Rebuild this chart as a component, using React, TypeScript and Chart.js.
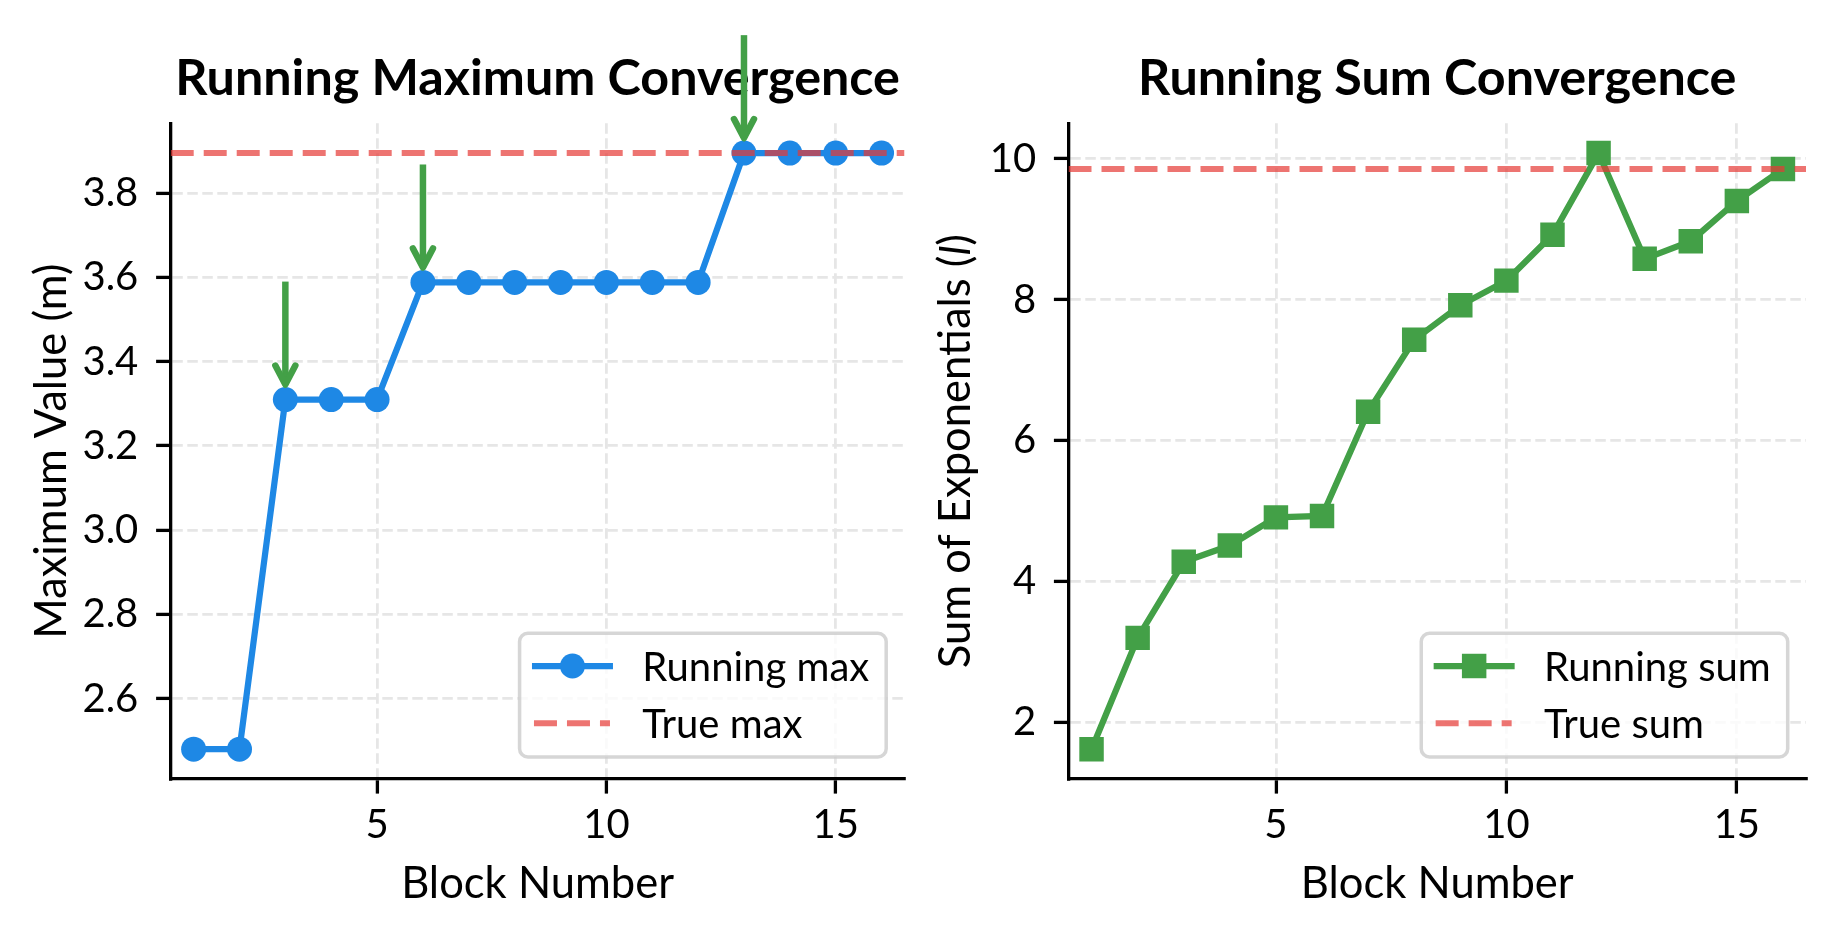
import React, { useEffect, useRef } from "react";
import { Chart, registerables } from "chart.js";

Chart.register(...registerables);

// ---------------- data ----------------
const blocks = [1, 2, 3, 4, 5, 6, 7, 8, 9, 10, 11, 12, 13, 14, 15, 16];
const runningMax = [2.48, 2.48, 3.31, 3.31, 3.31, 3.588, 3.588, 3.588, 3.588, 3.588, 3.588, 3.588, 3.895, 3.895, 3.895, 3.895];
const trueMax = 3.895;
const newMaxBlocks = [3, 6, 13];
const runningSum = [1.62, 3.2, 4.28, 4.51, 4.91, 4.93, 6.41, 7.43, 7.92, 8.27, 8.92, 10.08, 8.58, 8.83, 9.4, 9.855];
const trueSum = 9.855;
const xTickValues = [5, 10, 15];
const maxTickValues = [2.6, 2.8, 3.0, 3.2, 3.4, 3.6, 3.8];
const sumTickValues = [2, 4, 6, 8, 10];
const xLimits = [0.5, 16.5];
const arrowRise = 0.28;

// ---------------- style / layout ----------------
const W = 1834;
const H = 935;
const PANEL_W = 917;
const AREA_TOP = 123.3;
const AREA_BOTTOM = 779;
const TITLE_MID = 76.7;
const XLABEL_MID = 882;
const FAMILY = "Lato, 'Noto Sans', sans-serif";
const BLUE = "#1E88E5";
const GREEN = "#43A047";
const RED = "rgba(229,57,53,0.7)";
const GRID = "#e6e6e6";
const TICK_LEN = 14.6;
const SPINE_W = 3.3;
const LINE_W = 6.25;

type Part = { text: string; italic?: boolean };
type PanelSpec = {
  canvasLeft: number;
  areaLeft: number;
  areaRight: number;
  yTitleX: number;
  title: string;
  yTitle: Part[];
  series: number[];
  seriesLabel: string;
  color: string;
  pointStyle: "circle" | "rect";
  pointRadius: number;
  truth: number;
  truthLabel: string;
  yTicks: number[];
  decimals: number;
  arrows: number[];
};

const panels: PanelSpec[] = [
  {
    canvasLeft: 0,
    areaLeft: 170.7,
    areaRight: 908.3,
    yTitleX: 50,
    title: "Running Maximum Convergence",
    yTitle: [{ text: "Maximum Value (m)" }],
    series: runningMax,
    seriesLabel: "Running max",
    color: BLUE,
    pointStyle: "circle",
    pointRadius: 12.5,
    truth: trueMax,
    truthLabel: "True max",
    yTicks: maxTickValues,
    decimals: 1,
    arrows: newMaxBlocks,
  },
  {
    canvasLeft: PANEL_W,
    areaLeft: 151.5,
    areaRight: 889,
    yTitleX: 36.5,
    title: "Running Sum Convergence",
    yTitle: [{ text: "Sum of Exponentials (" }, { text: "l", italic: true }, { text: ")" }],
    series: runningSum,
    seriesLabel: "Running sum",
    color: GREEN,
    pointStyle: "rect",
    pointRadius: 17.3,
    truth: trueSum,
    truthLabel: "True sum",
    yTicks: sumTickValues,
    decimals: 0,
    arrows: [],
  },
];

type Fonts = { title: number; label: number; legend: number; tick: number };

function fitSize(text: string, weight: string, target: number): number {
  const c = document.createElement("canvas").getContext("2d")!;
  c.font = `${weight} 100px ${FAMILY}`;
  return (100 * target) / c.measureText(text).width;
}

function makeDecor(spec: PanelSpec, fonts: Fonts) {
  return {
    id: "decor",
    afterDraw(chart: any) {
      const { ctx, chartArea: a, scales } = chart;
      const xs = scales.x;
      const ys = scales.y;
      ctx.save();
      ctx.fillStyle = "#000";

      // ---- legend ----
      ctx.font = `${fonts.legend}px ${FAMILY}`;
      const capG = ctx.measureText("H").actualBoundingBoxAscent;
      const textW = Math.max(ctx.measureText(spec.seriesLabel).width, ctx.measureText(spec.truthLabel).width);
      const boxW = 122.7 + textW + 17;
      const boxH = 123.7;
      const boxR = a.right - 18.3;
      const boxB = a.bottom - 22;
      const boxL = boxR - boxW;
      const boxT = boxB - boxH;
      ctx.beginPath();
      ctx.roundRect(boxL, boxT, boxW, boxH, 8.3);
      ctx.fillStyle = "rgba(255,255,255,0.8)";
      ctx.fill();
      ctx.lineWidth = 3.5;
      ctx.strokeStyle = "rgba(204,204,204,0.8)";
      ctx.stroke();
      const hs = boxL + 12.4;
      const he = boxL + 93.4;
      const r1 = boxT + 32.7;
      const r2 = boxT + 90;
      ctx.beginPath();
      ctx.moveTo(hs, r1);
      ctx.lineTo(he, r1);
      ctx.strokeStyle = spec.color;
      ctx.lineWidth = LINE_W;
      ctx.stroke();
      ctx.fillStyle = spec.color;
      const mc = (hs + he) / 2;
      if (spec.pointStyle === "circle") {
        ctx.beginPath();
        ctx.arc(mc, r1, spec.pointRadius, 0, Math.PI * 2);
        ctx.fill();
      } else {
        const side = spec.pointRadius * Math.SQRT2;
        ctx.fillRect(mc - side / 2, r1 - side / 2, side, side);
      }
      ctx.beginPath();
      ctx.setLineDash([23, 10]);
      ctx.moveTo(hs + 2, r2);
      ctx.lineTo(he - 3, r2);
      ctx.strokeStyle = RED;
      ctx.lineWidth = 6;
      ctx.stroke();
      ctx.setLineDash([]);
      ctx.fillStyle = "#000";
      ctx.textAlign = "left";
      ctx.textBaseline = "alphabetic";
      ctx.fillText(spec.seriesLabel, boxL + 122.7, r1 + capG / 2);
      ctx.fillText(spec.truthLabel, boxL + 122.7, r2 + capG / 2);

      // ---- title ----
      ctx.font = `bold ${fonts.title}px ${FAMILY}`;
      ctx.textAlign = "center";
      const capT = ctx.measureText("H").actualBoundingBoxAscent;
      ctx.fillText(spec.title, (a.left + a.right) / 2, TITLE_MID + capT / 2);

      // ---- x label ----
      ctx.font = `${fonts.label}px ${FAMILY}`;
      const capL = ctx.measureText("H").actualBoundingBoxAscent;
      ctx.fillText("Block Number", (a.left + a.right) / 2, XLABEL_MID + capL / 2);

      // ---- y label ----
      ctx.save();
      ctx.translate(spec.yTitleX, (a.top + a.bottom) / 2);
      ctx.rotate(-Math.PI / 2);
      ctx.textAlign = "left";
      const fontFor = (p: Part) => `${p.italic ? "italic " : ""}${fonts.label}px ${FAMILY}`;
      let total = 0;
      for (const p of spec.yTitle) {
        ctx.font = fontFor(p);
        total += ctx.measureText(p.text).width;
      }
      let cx = -total / 2;
      for (const p of spec.yTitle) {
        ctx.font = fontFor(p);
        ctx.fillText(p.text, cx, capL / 2);
        cx += ctx.measureText(p.text).width;
      }
      ctx.restore();

      // ---- arrows ----
      ctx.strokeStyle = GREEN;
      ctx.lineWidth = 6.5;
      for (const b of spec.arrows) {
        const v = spec.series[blocks.indexOf(b)];
        const px = xs.getPixelForValue(b);
        const py = ys.getPixelForValue(v);
        const y0 = ys.getPixelForValue(v + arrowRise);
        const tip = py - 15;
        ctx.lineCap = "butt";
        ctx.beginPath();
        ctx.moveTo(px, y0);
        ctx.lineTo(px, tip);
        ctx.stroke();
        ctx.lineCap = "round";
        ctx.lineJoin = "round";
        ctx.beginPath();
        ctx.moveTo(px - 10, tip - 19);
        ctx.lineTo(px, tip);
        ctx.lineTo(px + 10, tip - 19);
        ctx.stroke();
      }
      ctx.restore();
    },
  };
}

function buildChart(canvas: HTMLCanvasElement, spec: PanelSpec, fonts: Fonts) {
  const lo = Math.min(...spec.series, spec.truth);
  const hi = Math.max(...spec.series, spec.truth);
  const pad = 0.05 * (hi - lo);
  const tickFont = { family: FAMILY, size: fonts.tick, lineHeight: 1.2 };
  const xPad = 825 - AREA_BOTTOM - TICK_LEN - 0.6 * fonts.tick;
  const yPad = spec.areaLeft - TICK_LEN - (spec.areaLeft - 32.4 - TICK_LEN) ;
  return new Chart(canvas, {
    type: "line",
    data: {
      datasets: [
        {
          label: spec.truthLabel,
          data: [
            { x: xLimits[0], y: spec.truth },
            { x: xLimits[1], y: spec.truth },
          ],
          borderColor: RED,
          borderWidth: 6,
          borderDash: [23, 10],
          pointRadius: 0,
          order: 0,
        },
        {
          label: spec.seriesLabel,
          data: blocks.map((b, i) => ({ x: b, y: spec.series[i] })),
          borderColor: spec.color,
          backgroundColor: spec.color,
          borderWidth: LINE_W,
          pointStyle: spec.pointStyle,
          pointRadius: spec.pointRadius,
          pointHoverRadius: spec.pointRadius,
          pointBorderWidth: 0,
          pointBackgroundColor: spec.color,
          tension: 0,
          order: 1,
        },
      ],
    } as any,
    options: {
      responsive: false,
      animation: false,
      events: [],
      layout: {
        padding: { left: 0, top: AREA_TOP, right: PANEL_W - spec.areaRight, bottom: 0 },
      },
      plugins: {
        legend: { display: false },
        tooltip: { enabled: false },
        title: { display: false },
      },
      scales: {
        x: {
          type: "linear",
          min: xLimits[0],
          max: xLimits[1],
          afterFit: (s: any) => {
            s.height = H - AREA_BOTTOM;
          },
          afterBuildTicks: (s: any) => {
            s.ticks = xTickValues.map((v) => ({ value: v }));
          },
          ticks: {
            font: tickFont,
            color: "#000",
            padding: xPad,
            maxRotation: 0,
            autoSkip: false,
            callback: (v: any) => String(v),
          },
          grid: {
            color: GRID,
            lineWidth: 2.8,
            drawTicks: true,
            tickLength: TICK_LEN,
            tickWidth: SPINE_W,
            tickColor: "#000",
            tickBorderDash: [],
          },
          border: { display: true, color: "#000", width: SPINE_W, dash: [10.5, 4.5] },
        },
        y: {
          type: "linear",
          min: lo - pad,
          max: hi + pad,
          afterFit: (s: any) => {
            s.width = spec.areaLeft;
          },
          afterBuildTicks: (s: any) => {
            s.ticks = spec.yTicks.map((v) => ({ value: v }));
          },
          ticks: {
            font: tickFont,
            color: "#000",
            padding: 17.8,
            autoSkip: false,
            callback: (v: any) => Number(v).toFixed(spec.decimals),
          },
          grid: {
            color: GRID,
            lineWidth: 2.8,
            drawTicks: true,
            tickLength: TICK_LEN,
            tickWidth: SPINE_W,
            tickColor: "#000",
            tickBorderDash: [],
          },
          border: { display: true, color: "#000", width: SPINE_W, dash: [10.5, 4.5] },
        },
      },
    } as any,
    plugins: [makeDecor(spec, fonts)],
  });
}

export default function App() {
  const leftRef = useRef<HTMLCanvasElement>(null);
  const rightRef = useRef<HTMLCanvasElement>(null);

  useEffect(() => {
    const fonts: Fonts = {
      title: fitSize("Running Maximum Convergence", "bold", 725),
      label: fitSize("Block Number", "normal", 273),
      legend: fitSize("Running max", "normal", 227),
      tick: fitSize("Running max", "normal", 227),
    };
    const charts = [
      buildChart(leftRef.current!, panels[0], fonts),
      buildChart(rightRef.current!, panels[1], fonts),
    ];
    return () => charts.forEach((c) => c.destroy());
  }, []);

  return (
    <div style={{ position: "absolute", left: 0, top: 0, width: W, height: H, background: "#fff" }}>
      <canvas ref={leftRef} width={PANEL_W} height={H} style={{ position: "absolute", left: 0, top: 0 }} />
      <canvas ref={rightRef} width={PANEL_W} height={H} style={{ position: "absolute", left: PANEL_W, top: 0 }} />
    </div>
  );
}
